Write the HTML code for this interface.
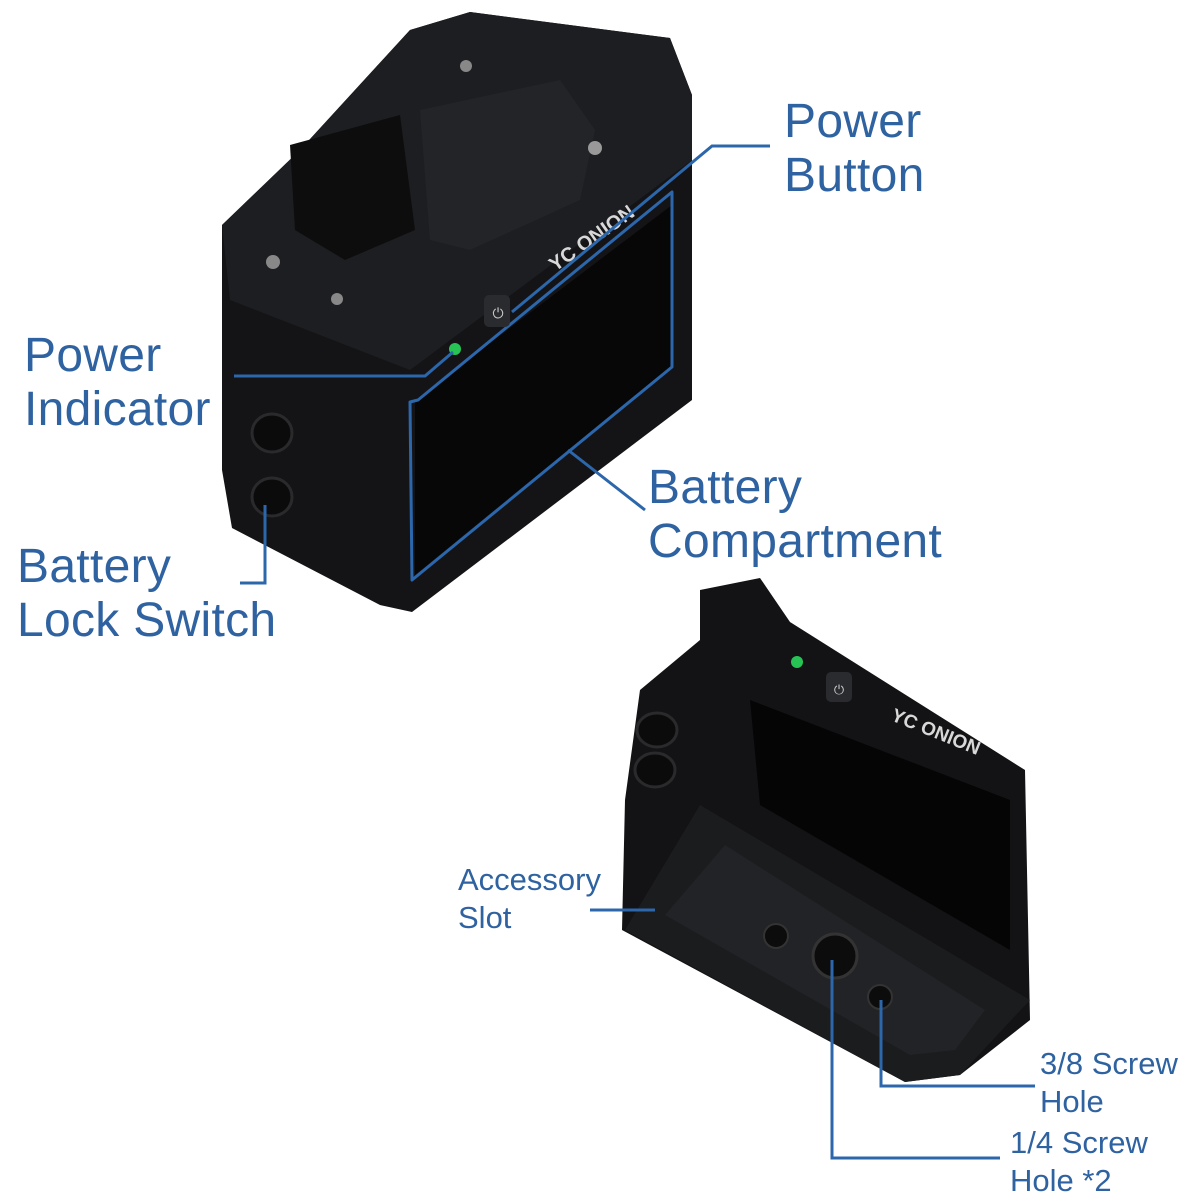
<!DOCTYPE html>
<html><head><style>
body{margin:0;width:1199px;height:1200px;background:#fff;overflow:hidden;position:relative;font-family:"Liberation Sans","DejaVu Sans",sans-serif;}
.t{position:absolute;color:#2f62a0;}
.big{font-size:48px;line-height:54px;letter-spacing:0.3px;}
.sm{font-size:31px;line-height:38px;}
svg{position:absolute;left:0;top:0;}
</style></head><body>
<svg width="1199" height="1200" viewBox="0 0 1199 1200">
<polygon points="222,225 300,150 410,30 470,12 670,38 692,95 692,400 412,612 380,605 232,528 222,470" fill="#141416"/>
<polygon points="222,225 300,150 410,30 470,12 670,38 692,95 692,160 410,370 230,300" fill="#1d1e21"/>
<polygon points="290,145 400,115 415,230 345,260 295,230" fill="#0d0d0e"/>
<polygon points="420,110 560,80 595,130 580,200 470,250 430,240" fill="#232428"/>
<circle cx="466" cy="66" r="6" fill="#888"/><circle cx="595" cy="148" r="7" fill="#999"/>
<circle cx="273" cy="262" r="7" fill="#888"/><circle cx="337" cy="299" r="6" fill="#888"/>
<polygon points="415,400 672,205 672,365 415,575" fill="#070708"/>
<polygon points="418,400 672,192 672,367 412,580 410,402" fill="none" stroke="#2c66ab" stroke-width="3" stroke-linejoin="round"/>
<rect x="484" y="295" width="26" height="32" rx="5" fill="#2a2b2e"/>
<text x="498" y="318" fill="#ccc" font-size="14" text-anchor="middle">⏻</text>
<circle cx="455" cy="349" r="6" fill="#27c455"/>
<text x="555" y="272" fill="#d8d8d8" font-size="20" font-weight="bold" transform="rotate(-35 555 272)">YC ONION</text>
<ellipse cx="272" cy="433" rx="20" ry="19" fill="#0b0b0c" stroke="#2a2a2c" stroke-width="3"/>
<ellipse cx="272" cy="497" rx="20" ry="19" fill="#0b0b0c" stroke="#2a2a2c" stroke-width="3"/>
<g stroke="#2c66ab" stroke-width="3" fill="none">
<polyline points="770,146 712,146 512,312"/>
<polyline points="234,376 425,376 453,352"/>
<polyline points="645,510 568,450"/>
<polyline points="240,583 265,583 265,505"/>
</g>
<polygon points="700,590 760,578 775,600 790,622 1025,770 1030,1020 960,1075 905,1082 622,930 625,800 640,690 700,640" fill="#131315"/>
<polygon points="625,930 700,805 1030,1000 960,1075 905,1082" fill="#1b1c1e"/>
<polygon points="665,915 725,845 985,1010 955,1050 910,1055" fill="#222326"/>
<polygon points="750,700 1010,800 1010,950 760,805" fill="#050506"/>
<rect x="826" y="672" width="26" height="30" rx="5" fill="#2a2b2e"/>
<text x="839" y="694" fill="#ccc" font-size="13" text-anchor="middle">⏻</text>
<circle cx="797" cy="662" r="6" fill="#27c455"/>
<text x="890" y="720" fill="#d8d8d8" font-size="19" font-weight="bold" transform="rotate(22 890 720)">YC ONION</text>
<ellipse cx="657" cy="730" rx="20" ry="17" fill="#0b0b0c" stroke="#2a2a2c" stroke-width="3"/>
<ellipse cx="655" cy="770" rx="20" ry="17" fill="#0b0b0c" stroke="#2a2a2c" stroke-width="3"/>
<circle cx="776" cy="936" r="12" fill="#0c0c0d" stroke="#333" stroke-width="2"/>
<circle cx="835" cy="956" r="22" fill="#0c0c0d" stroke="#333" stroke-width="3"/>
<circle cx="880" cy="997" r="12" fill="#0c0c0d" stroke="#333" stroke-width="2"/>
<g stroke="#2c66ab" stroke-width="3" fill="none">
<polyline points="590,910 655,910"/>
<polyline points="1035,1086 881,1086 881,1000"/>
<polyline points="1000,1158 832,1158 832,960"/>
</g>
</svg>
<div class="t big" style="left:784px;top:95px;">Power<br>Button</div>
<div class="t big" style="left:24px;top:329px;">Power<br>Indicator</div>
<div class="t big" style="left:648px;top:461px;">Battery<br>Compartment</div>
<div class="t big" style="left:17px;top:540px;">Battery<br>Lock Switch</div>
<div class="t sm" style="left:458px;top:861px;">Accessory<br>Slot</div>
<div class="t sm" style="left:1040px;top:1045px;">3/8 Screw<br>Hole</div>
<div class="t sm" style="left:1010px;top:1124px;">1/4 Screw<br>Hole *2</div>
</body></html>
